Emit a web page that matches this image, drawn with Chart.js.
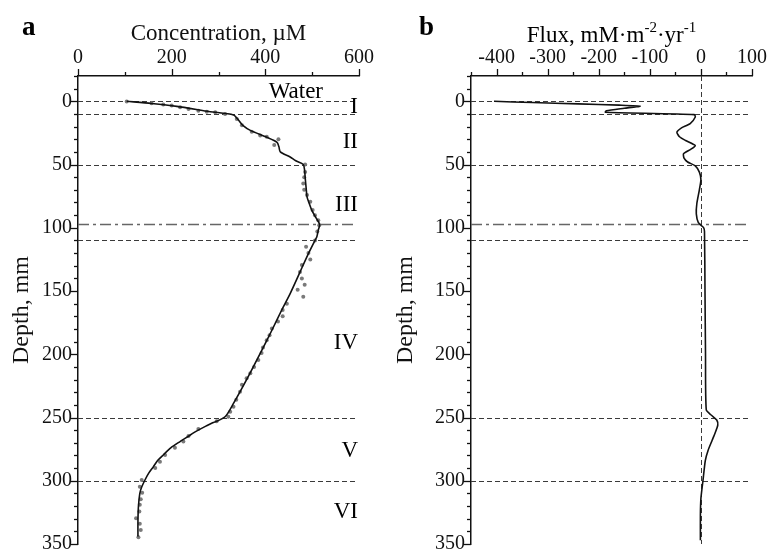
<!DOCTYPE html>
<html><head><meta charset="utf-8">
<script src="https://cdn.jsdelivr.net/npm/chart.js@4/dist/chart.umd.min.js"></script>
<style>
html,body{margin:0;padding:0;background:#fff;}
#wrap{position:relative;width:768px;height:550px;overflow:hidden;}
.pane{position:absolute;top:0;width:384px;height:550px;}
</style></head><body>
<div id="wrap">
<div class="pane" style="left:0"><canvas id="ca" width="384" height="550"></canvas></div>
<div class="pane" style="left:384px"><canvas id="cb" width="384" height="550"></canvas></div>
</div>
<script>
// ---- Panel a: concentration profile (model line) ----
const concLineDepth = [0,1.7,4,8.2,10.8,15,19,23,28.4,32.4,36,40,44,47,50,55,60,68,75.6,81,86,92,97.4,102,107,110,122,135,152,165,181,200,220,238.8,249.4,254,257,261,265,269,274,279.6,284,288.9,294,299.4,305,310,320.5,332,344];
const concLineValue = [104,157,211,282,332,343,352,368,403,425,429,432,453,465,481,484,485,487,489,494,499,508,516,513,510,506,490,474,453,435,414,388,360,332,314,289,272,252,235,218,198,182,170,161,151,143,136,132,129,128,128];
// ---- Panel a: measured concentrations ----
const concPointDepth = [0.2,1.6,2.6,3.4,4.7,6,7.4,8.2,8.7,10,14,19,24,27,28,30,34.6,50,55.8,60,65,70,74,79.5,86,90,94,98,103,110,115,120,125,129.5,135,140,145,149,154.6,160,165,170,174,179.6,185,189,194.6,199,204.6,210,215,219,224,229.6,236,241.5,245.4,249.4,253,259,264.6,269,274,279.6,285,290,299.4,304.7,309.4,314.6,319,324.4,329.6,334,339,344.6];
const concPointValue = [104,157,182,200,218,236,257,275,293,314,339,350,371,389,403,428,419,485,485,483,481,483,489,496,501,506,513,515,511,506,487,492,496,478,474,478,484,469,481,446,437,437,427,414,409,403,395,392,385,376,368,360,350,346,338,332,325,321,296,257,236,225,207,186,175,165,136,132,137,134,132,131,124,132,134,129];
// ---- Panel b: flux profile ----
const fluxDepth = [0,1,2,3,3.8,5.5,7.5,8.6,10.5,12.4,17.7,21,24.5,28,31,35,38,41.5,45,48,51,56,62,70,81,89,96,99.7,103,150,200,244,248,252,256,262,268,276,284,300,314,327,347];
const fluxValue = [-405,-330,-240,-160,-119,-150,-185,-187,-13,-11,-21,-38,-47,-42,-30,-11,-20,-34,-33,-26,-11,-3,0,-3,-8,-9,-5,5,7,8,9,10.5,20,31,33,28,22,14,8.6,4,0,-1,-1];
// ---- zones, ticks, titles ----
const boundaryDepths = [0,10,50,110,250,300];
const transitionDepth = [97];
const zoneNames = ['Water','I','II','III','IV','V','VI'];
const zoneNameDepths = [-8,4,31,81,190,276,324];
const depthTicks = [0,50,100,150,200,250,300,350];
const concTicks = [0,200,400,600];
const fluxTicks = [-400,-300,-200,-100,0,100];
const panelLetters = ['a','b'];
const depthTitle = 'Depth, mm';
const concTitle = 'Concentration, \u00b5M';

const SERIF = "'Liberation Serif','Times New Roman',serif";
Chart.defaults.font.family = SERIF;
Chart.defaults.color = '#111';

function pairs(ys, xs){ return ys.map((d,i)=>({x:xs[i], y:d})); }

function decorPlugin(cfg){
  return {
    id:'decor'+cfg.letter,
    beforeDatasetsDraw(chart){
      const {ctx, chartArea:a, scales:{x,y}} = chart;
      ctx.save();
      ctx.lineWidth = 1;
      ctx.strokeStyle = '#3a3a3a';
      ctx.setLineDash([5,3]);
      boundaryDepths.forEach(d=>{
        const py = Math.round(y.getPixelForValue(d))+0.5;
        ctx.beginPath(); ctx.moveTo(a.left,py); ctx.lineTo(a.right-4,py); ctx.stroke();
      });
      ctx.strokeStyle = '#666'; ctx.lineWidth = 1.3;
      ctx.setLineDash([11,4,3,4]);
      transitionDepth.forEach(d=>{
        const py = Math.round(y.getPixelForValue(d))+0.5;
        ctx.beginPath(); ctx.moveTo(a.left,py); ctx.lineTo(a.right-4,py); ctx.stroke();
      });
      if (cfg.zeroLine){
        ctx.strokeStyle = '#3a3a3a'; ctx.lineWidth = 1; ctx.setLineDash([5,3]);
        const px = Math.round(x.getPixelForValue(0))+0.5;
        ctx.beginPath(); ctx.moveTo(px,a.top); ctx.lineTo(px,a.bottom); ctx.stroke();
      }
      ctx.restore();
    },
    afterDraw(chart){
      const {ctx, chartArea:a, scales:{x,y}} = chart;
      ctx.save();
      ctx.strokeStyle = '#111'; ctx.lineWidth = 1.3; ctx.setLineDash([]);
      for (let v=-20; v<=350; v+=10){
        const py = Math.round(y.getPixelForValue(v))+0.5;
        const len = (v%50===0) ? 7 : 4;
        ctx.beginPath(); ctx.moveTo(a.left-len,py); ctx.lineTo(a.left,py); ctx.stroke();
      }
      for (let v=cfg.xMin; v<=cfg.xMax; v+=cfg.minorStep){
        const px = Math.round(x.getPixelForValue(v))+0.5;
        const len = (v%cfg.majorStep===0) ? 7 : 4;
        ctx.beginPath(); ctx.moveTo(px,a.top-len); ctx.lineTo(px,a.top); ctx.stroke();
      }
      // panel letter
      ctx.fillStyle = '#000';
      ctx.font = 'bold 27px '+SERIF;
      ctx.textAlign = 'left'; ctx.textBaseline = 'alphabetic';
      ctx.fillText(cfg.letter, cfg.letterX, 35);
      if (cfg.zones){
        ctx.font = '23px '+SERIF;
        ctx.textBaseline = 'middle';
        zoneNames.forEach((n,i)=>{
          const py = y.getPixelForValue(zoneNameDepths[i]);
          if (n==='Water'){ ctx.textAlign='right'; ctx.fillText(n, a.right-36, py+1); }
          else { ctx.textAlign='right'; ctx.fillText(n, a.right-1, py+1); }
        });
      }
      if (cfg.fluxTitle){
        const cx = (a.left+a.right)/2, by = 42;
        const big = '23px '+SERIF, small = '15px '+SERIF;
        const parts = [['Flux, mM\u00b7m',big,0],['-2',small,-10],['\u00b7yr',big,0],['-1',small,-10]];
        let w = 0;
        parts.forEach(p=>{ctx.font=p[1]; w+=ctx.measureText(p[0]).width;});
        let px = cx - w/2;
        ctx.textAlign='left'; ctx.textBaseline='alphabetic';
        parts.forEach(p=>{ctx.font=p[1]; ctx.fillText(p[0], px, by+p[2]); px+=ctx.measureText(p[0]).width;});
      }
      ctx.restore();
    }
  };
}

function makeChart(id, cfg){
  return new Chart(document.getElementById(id), {
    type:'scatter',
    data:{datasets:cfg.datasets},
    options:{
      responsive:false, animation:false,
      layout:{padding:{left:0,right:cfg.padRight,top:0,bottom:6}},
      plugins:{legend:{display:false}, tooltip:{enabled:false}},
      scales:{
        x:{type:'linear', position:'top', min:cfg.xMin, max:cfg.xMax,
           afterBuildTicks:s=>{s.ticks = cfg.xTicks.map(v=>({value:v}));},
           afterFit:s=>{s.height = 76; s.paddingLeft = 0; s.paddingRight = 0;},
           grid:{display:false, drawTicks:false}, border:{display:true,color:'#111',width:1.5},
           ticks:{padding:6, font:{size:20}, color:'#111', maxRotation:0, autoSkip:false},
           title:{display:!!cfg.xTitle, text:cfg.xTitle||'', font:{size:23}, color:'#111', padding:{top:20,bottom:0}}},
        y:{type:'linear', position:'left', reverse:true, min:-20, max:350,
           afterBuildTicks:s=>{s.ticks = depthTicks.map(v=>({value:v}));},
           afterFit:s=>{s.width = cfg.yWidth; s.paddingTop = 0; s.paddingBottom = 0;},
           grid:{display:false, drawTicks:false}, border:{display:true,color:'#111',width:1.5},
           ticks:{padding:6, font:{size:20}, color:'#111', autoSkip:false},
           title:{display:true, text:depthTitle, font:{size:24}, color:'#111', padding:{top:7,bottom:0}}}
      }
    },
    plugins:[decorPlugin(cfg)]
  });
}

makeChart('ca', {
  letter:panelLetters[0], letterX:22, zones:true, zeroLine:false, fluxTitle:false,
  xMin:0, xMax:600, minorStep:100, majorStep:200, xTicks:concTicks, xTitle:concTitle,
  padRight:25, yWidth:78,
  datasets:[
    {data:pairs(concLineDepth, concLineValue), showLine:true, borderColor:'#111', borderWidth:1.6, pointRadius:0, tension:0.25, fill:false},
    {data:pairs(concPointDepth, concPointValue), showLine:false, pointRadius:2, pointBackgroundColor:'#7a7a7a', pointBorderWidth:0, borderColor:'#7a7a7a'}
  ]
});
makeChart('cb', {
  letter:panelLetters[1], letterX:35, zones:false, zeroLine:true, fluxTitle:true,
  xMin:-450, xMax:100, minorStep:50, majorStep:100, xTicks:fluxTicks, xTitle:null,
  padRight:16, yWidth:87,
  datasets:[
    {data:pairs(fluxDepth, fluxValue), showLine:true, borderColor:'#111', borderWidth:1.6, pointRadius:0, tension:0.2, fill:false}
  ]
});
</script>
</body></html>
